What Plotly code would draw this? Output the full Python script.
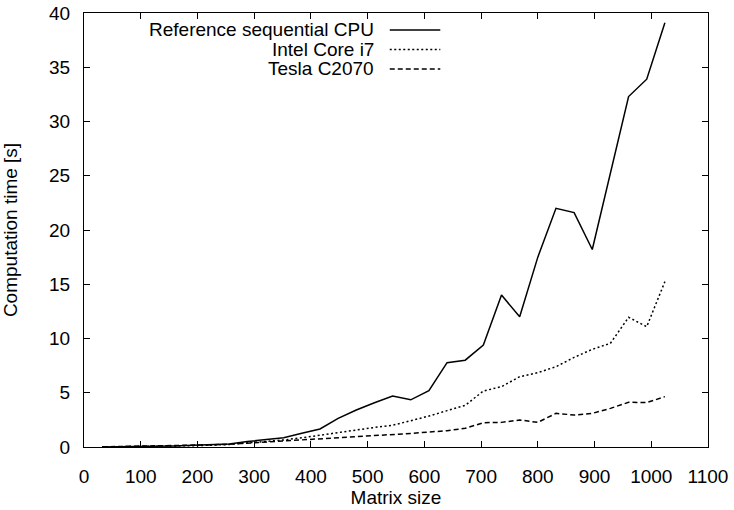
import plotly.graph_objects as go

matrix_size = [32, 64, 96, 128, 160, 192, 224, 256, 288, 320, 352, 384, 416, 448, 480, 512,
               544, 576, 608, 640, 672, 704, 736, 768, 800, 832, 864, 896, 928, 960, 992, 1024]

ref_cpu = [0.01, 0.02, 0.04, 0.06, 0.1, 0.15, 0.2, 0.28, 0.5, 0.7, 0.86, 1.26, 1.66, 2.64, 3.41, 4.08,
           4.7, 4.35, 5.2, 7.77, 8.0, 9.4, 14.0, 12.0, 17.5, 22.0, 21.6, 18.2, 25.3, 32.3, 33.9, 39.1]

intel_i7 = [0.01, 0.02, 0.03, 0.05, 0.08, 0.12, 0.17, 0.23, 0.38, 0.5, 0.65, 0.85, 1.1, 1.3, 1.55, 1.8,
            2.0, 2.4, 2.85, 3.35, 3.84, 5.16, 5.56, 6.48, 6.85, 7.4, 8.26, 9.0, 9.56, 11.95, 11.09, 15.24]

tesla_c2070 = [0.02, 0.04, 0.06, 0.09, 0.12, 0.16, 0.2, 0.26, 0.36, 0.45, 0.52, 0.6, 0.72, 0.82, 0.92, 1.02,
               1.12, 1.25, 1.38, 1.5, 1.72, 2.24, 2.27, 2.49, 2.27, 3.1, 2.95, 3.1, 3.56, 4.12, 4.09, 4.64]

series_names = ["Reference sequential CPU", "Intel Core i7", "Tesla C2070"]
x_ticks = [0, 100, 200, 300, 400, 500, 600, 700, 800, 900, 1000, 1100]
y_ticks = [0, 5, 10, 15, 20, 25, 30, 35, 40]

FONT = "Liberation Sans, Arial, Helvetica, sans-serif"
FS = 19

dashes = ["solid", "2px,2.5px", "5px,3px"]
widths = [1.5, 1.5, 1.5]

fig = go.Figure()
for name, ys, dash, w in zip(series_names, [ref_cpu, intel_i7, tesla_c2070], dashes, widths):
    fig.add_trace(go.Scatter(x=matrix_size, y=ys, mode="lines", name=name,
                             line=dict(color="black", width=w, dash=dash), showlegend=False))

# manual gnuplot-style legend (text right-aligned, sample on the right)
rows_y = [0.961, 0.916, 0.871]
for name, dash, w, ry in zip(series_names, dashes, widths, rows_y):
    fig.add_annotation(xref="paper", yref="paper", x=0.468, y=ry, text=name,
                       showarrow=False, xanchor="right", yanchor="middle",
                       font=dict(family=FONT, size=FS, color="black"))
    fig.add_shape(type="line", xref="paper", yref="paper", x0=0.490, x1=0.571, y0=ry, y1=ry,
                  line=dict(color="black", width=w, dash=dash))

axis_common = dict(showline=True, linecolor="black", linewidth=1.2, mirror="allticks",
                   ticks="inside", ticklen=6, tickcolor="black", tickwidth=1,
                   showgrid=False, zeroline=False,
                   tickfont=dict(family=FONT, size=FS, color="black"))

fig.update_xaxes(range=[0, 1100], tickvals=x_ticks, ticktext=[str(v) for v in x_ticks],
                 title=dict(text="Matrix size", standoff=4,
                            font=dict(family=FONT, size=FS, color="black")),
                 ticklabelstandoff=12, **axis_common)
fig.update_yaxes(range=[0, 40], tickvals=y_ticks, ticktext=[str(v) for v in y_ticks],
                 title=dict(text="Computation time [s]", standoff=29,
                            font=dict(family=FONT, size=FS, color="black")),
                 ticklabelstandoff=9, **axis_common)

fig.update_layout(width=734, height=510, plot_bgcolor="white", paper_bgcolor="white",
                  margin=dict(l=84, r=26, t=13, b=63, autoexpand=False))

fig.write_html("out.html", config={"displayModeBar": False},
               post_script="document.body.style.margin='0';document.body.style.overflow='hidden';")
